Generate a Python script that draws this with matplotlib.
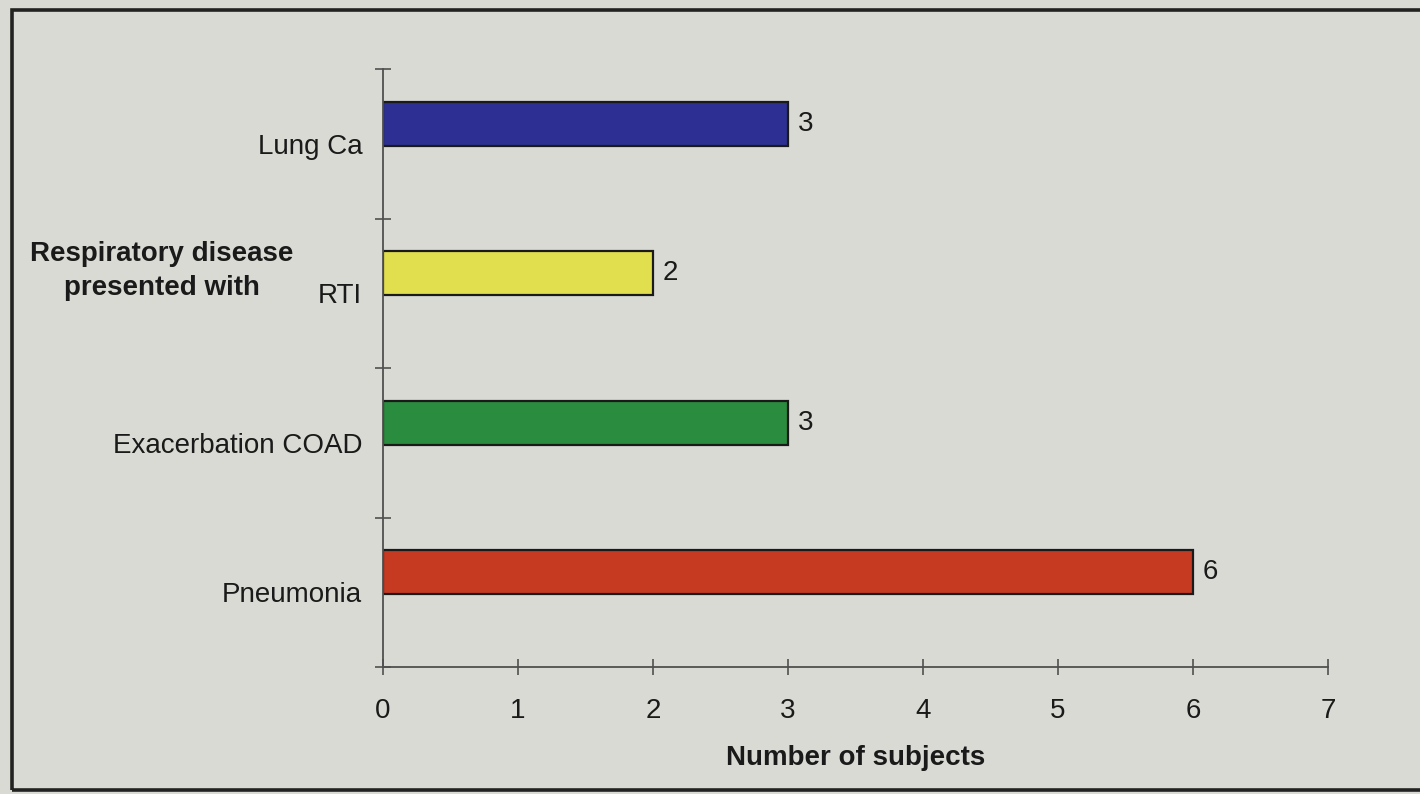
import numpy as np
import matplotlib.pyplot as plt
from matplotlib.patches import Rectangle

plt.rcParams['font.family'] = ['Liberation Sans', 'DejaVu Sans']

# diseases from bottom to top of the chart
diseases = ['Pneumonia', 'Exacerbation COAD', 'RTI', 'Lung Ca']
subjects = [6, 3, 2, 3]
bar_colors = ['#c73a22', '#2a8c3e', '#e2df4e', '#2d3092']

page = '#dadad5'
axis_grey = '#505050'
ink = '#1a1a1a'

fig = plt.figure(figsize=(14.2, 7.94), dpi=100)
fig.patch.set_facecolor(page)

# frame round the whole chart
fig.patches.append(Rectangle((12 / 1420, 4 / 794), 1.2, 780 / 794,
                             transform=fig.transFigure, fill=False,
                             edgecolor='#222222', linewidth=2.6))

ax = fig.add_axes([383 / 1420, 1 - 667 / 794, 945 / 1420, 598 / 794])
ax.set_facecolor(page)

pos = np.arange(len(diseases)) + 0.5
bars = ax.barh(pos + 0.134, subjects, height=0.294, color=bar_colors,
               edgecolor=ink, linewidth=1.6)

for b, v in zip(bars, subjects):
    ax.text(v + 0.07, b.get_y() + b.get_height() / 2, str(v),
            va='center', ha='left', fontsize=20, color=ink)

ax.set_xlim(0, 7)
ax.set_ylim(0, 4)
ax.set_xticks(range(0, 8))
ax.set_yticks(range(0, 5))
ax.set_yticklabels([])
ax.set_yticks(pos, minor=True)
ax.set_yticklabels(diseases, minor=True)

for side in ['top', 'right']:
    ax.spines[side].set_visible(False)
for side in ['left', 'bottom']:
    ax.spines[side].set_color(axis_grey)
    ax.spines[side].set_linewidth(1.3)

ax.tick_params(axis='both', which='major', direction='inout', length=11,
               width=1.2, color=axis_grey)
ax.tick_params(axis='x', labelsize=20, pad=17, labelcolor=ink)
ax.tick_params(axis='y', which='minor', length=0, pad=15, labelsize=20,
               labelcolor=ink)

ax.set_xlabel('Number of subjects', fontsize=20, fontweight='bold',
              color=ink, labelpad=15)

fig.text(162 / 1420, 1 - 271 / 794, 'Respiratory disease\npresented with',
         ha='center', va='center', fontsize=20, fontweight='bold',
         color=ink, linespacing=1.4)

plt.savefig('out.png', dpi=100, facecolor=page)
